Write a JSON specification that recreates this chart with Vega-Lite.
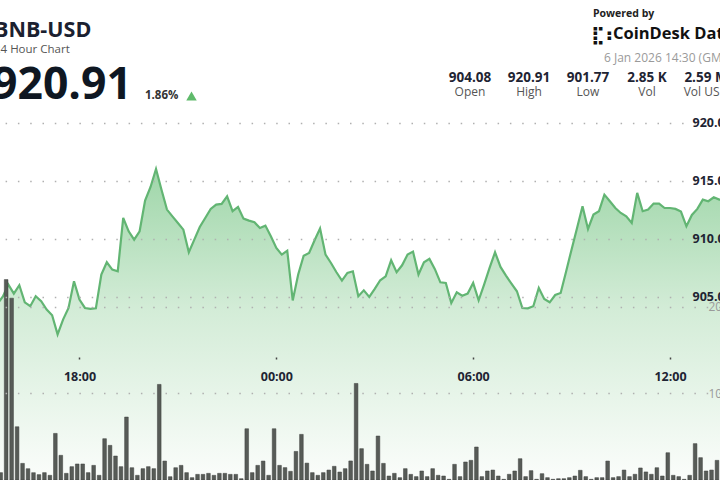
{
  "$schema": "https://vega.github.io/schema/vega-lite/v6.json",
  "width": 720,
  "height": 480,
  "padding": 0,
  "autosize": {"type": "none"},
  "background": "#ffffff",
  "config": {"view": {"stroke": null}, "font": "Open Sans"},
  "datasets": {
    "series": [
      {"t":"2026-01-05T15:30Z","p":904.4,"v":0.85},
      {"t":"2026-01-05T15:40Z","p":905.05,"v":23.15},
      {"t":"2026-01-05T15:50Z","p":906.06,"v":21.0},
      {"t":"2026-01-05T16:00Z","p":905.29,"v":6.15},
      {"t":"2026-01-05T16:10Z","p":906.01,"v":1.92},
      {"t":"2026-01-05T16:20Z","p":904.54,"v":1.31},
      {"t":"2026-01-05T16:30Z","p":904.2,"v":0.85},
      {"t":"2026-01-05T16:40Z","p":905.06,"v":0.62},
      {"t":"2026-01-05T16:50Z","p":904.63,"v":0.85},
      {"t":"2026-01-05T17:00Z","p":903.91,"v":0.54},
      {"t":"2026-01-05T17:10Z","p":903.42,"v":5.38},
      {"t":"2026-01-05T17:20Z","p":901.77,"v":2.85},
      {"t":"2026-01-05T17:30Z","p":903.05,"v":0.77},
      {"t":"2026-01-05T17:40Z","p":904.05,"v":1.54},
      {"t":"2026-01-05T17:50Z","p":906.35,"v":1.85},
      {"t":"2026-01-05T18:00Z","p":904.77,"v":1.85},
      {"t":"2026-01-05T18:10Z","p":904.05,"v":0.85},
      {"t":"2026-01-05T18:20Z","p":903.97,"v":1.69},
      {"t":"2026-01-05T18:30Z","p":904.02,"v":0.54},
      {"t":"2026-01-05T18:40Z","p":906.93,"v":4.77},
      {"t":"2026-01-05T18:50Z","p":907.99,"v":4.0},
      {"t":"2026-01-05T19:00Z","p":907.36,"v":2.77},
      {"t":"2026-01-05T19:10Z","p":907.21,"v":1.54},
      {"t":"2026-01-05T19:20Z","p":911.81,"v":7.27},
      {"t":"2026-01-05T19:30Z","p":910.66,"v":1.42},
      {"t":"2026-01-05T19:40Z","p":909.94,"v":0.54},
      {"t":"2026-01-05T19:50Z","p":910.66,"v":1.31},
      {"t":"2026-01-05T20:00Z","p":913.3,"v":1.54},
      {"t":"2026-01-05T20:10Z","p":914.48,"v":1.31},
      {"t":"2026-01-05T20:20Z","p":916.03,"v":11.04},
      {"t":"2026-01-05T20:30Z","p":914.25,"v":2.19},
      {"t":"2026-01-05T20:40Z","p":912.53,"v":0.38},
      {"t":"2026-01-05T20:50Z","p":911.95,"v":1.42},
      {"t":"2026-01-05T21:00Z","p":911.38,"v":1.69},
      {"t":"2026-01-05T21:10Z","p":910.8,"v":0.85},
      {"t":"2026-01-05T21:20Z","p":908.85,"v":0.27},
      {"t":"2026-01-05T21:30Z","p":909.94,"v":0.65},
      {"t":"2026-01-05T21:40Z","p":911.03,"v":0.65},
      {"t":"2026-01-05T21:50Z","p":911.81,"v":0.77},
      {"t":"2026-01-05T22:00Z","p":912.59,"v":0.54},
      {"t":"2026-01-05T22:10Z","p":912.96,"v":0.77},
      {"t":"2026-01-05T22:20Z","p":913.02,"v":0.77},
      {"t":"2026-01-05T22:30Z","p":913.68,"v":0.65},
      {"t":"2026-01-05T22:40Z","p":912.39,"v":0.65},
      {"t":"2026-01-05T22:50Z","p":912.76,"v":0.15},
      {"t":"2026-01-05T23:00Z","p":911.75,"v":5.92},
      {"t":"2026-01-05T23:10Z","p":911.58,"v":0.85},
      {"t":"2026-01-05T23:20Z","p":911.44,"v":1.69},
      {"t":"2026-01-05T23:30Z","p":910.95,"v":2.19},
      {"t":"2026-01-05T23:40Z","p":911.15,"v":0.54},
      {"t":"2026-01-05T23:50Z","p":910.23,"v":5.92},
      {"t":"2026-01-06T00:00Z","p":909.22,"v":1.69},
      {"t":"2026-01-06T00:10Z","p":908.65,"v":1.43},
      {"t":"2026-01-06T00:20Z","p":908.99,"v":1.0},
      {"t":"2026-01-06T00:30Z","p":904.7,"v":3.3},
      {"t":"2026-01-06T00:40Z","p":906.93,"v":5.27},
      {"t":"2026-01-06T00:50Z","p":908.56,"v":1.95},
      {"t":"2026-01-06T01:00Z","p":908.79,"v":0.85},
      {"t":"2026-01-06T01:10Z","p":909.89,"v":0.54},
      {"t":"2026-01-06T01:20Z","p":910.9,"v":0.85},
      {"t":"2026-01-06T01:30Z","p":908.65,"v":1.15},
      {"t":"2026-01-06T01:40Z","p":907.93,"v":1.58},
      {"t":"2026-01-06T01:50Z","p":907.13,"v":0.92},
      {"t":"2026-01-06T02:00Z","p":906.41,"v":1.31},
      {"t":"2026-01-06T02:10Z","p":907.07,"v":2.2},
      {"t":"2026-01-06T02:20Z","p":907.21,"v":11.15},
      {"t":"2026-01-06T02:30Z","p":905.06,"v":3.62},
      {"t":"2026-01-06T02:40Z","p":905.57,"v":1.81},
      {"t":"2026-01-06T02:50Z","p":905.0,"v":1.04},
      {"t":"2026-01-06T03:00Z","p":905.69,"v":5.08},
      {"t":"2026-01-06T03:10Z","p":906.44,"v":1.92},
      {"t":"2026-01-06T03:20Z","p":906.78,"v":0.46},
      {"t":"2026-01-06T03:30Z","p":908.16,"v":0.77},
      {"t":"2026-01-06T03:40Z","p":907.13,"v":0.27},
      {"t":"2026-01-06T03:50Z","p":907.73,"v":1.31},
      {"t":"2026-01-06T04:00Z","p":908.65,"v":0.65},
      {"t":"2026-01-06T04:10Z","p":908.91,"v":0.39},
      {"t":"2026-01-06T04:20Z","p":906.93,"v":1.04},
      {"t":"2026-01-06T04:30Z","p":907.99,"v":0.39},
      {"t":"2026-01-06T04:40Z","p":908.28,"v":1.31},
      {"t":"2026-01-06T04:50Z","p":907.4,"v":0.54},
      {"t":"2026-01-06T05:00Z","p":906.26,"v":0.46},
      {"t":"2026-01-06T05:10Z","p":906.21,"v":0.08},
      {"t":"2026-01-06T05:20Z","p":904.48,"v":1.81},
      {"t":"2026-01-06T05:30Z","p":905.4,"v":0.39},
      {"t":"2026-01-06T05:40Z","p":905.11,"v":2.08},
      {"t":"2026-01-06T05:50Z","p":905.29,"v":2.27},
      {"t":"2026-01-06T06:00Z","p":906.21,"v":3.81},
      {"t":"2026-01-06T06:10Z","p":904.71,"v":0.39},
      {"t":"2026-01-06T06:20Z","p":906.06,"v":1.04},
      {"t":"2026-01-06T06:30Z","p":907.5,"v":1.15},
      {"t":"2026-01-06T06:40Z","p":908.85,"v":0.46},
      {"t":"2026-01-06T06:50Z","p":907.59,"v":0.08},
      {"t":"2026-01-06T07:00Z","p":906.84,"v":0.66},
      {"t":"2026-01-06T07:10Z","p":906.15,"v":1.04},
      {"t":"2026-01-06T07:20Z","p":905.49,"v":2.46},
      {"t":"2026-01-06T07:30Z","p":904.05,"v":0.39},
      {"t":"2026-01-06T07:40Z","p":904.02,"v":1.08},
      {"t":"2026-01-06T07:50Z","p":904.2,"v":0.08},
      {"t":"2026-01-06T08:00Z","p":905.78,"v":0.73},
      {"t":"2026-01-06T08:10Z","p":904.83,"v":0.27},
      {"t":"2026-01-06T08:20Z","p":904.54,"v":0.08},
      {"t":"2026-01-06T08:30Z","p":905.17,"v":0.15},
      {"t":"2026-01-06T08:40Z","p":905.34,"v":0.15},
      {"t":"2026-01-06T08:50Z","p":907.2,"v":0.27},
      {"t":"2026-01-06T09:00Z","p":909.1,"v":0.46},
      {"t":"2026-01-06T09:10Z","p":910.95,"v":1.12},
      {"t":"2026-01-06T09:20Z","p":912.82,"v":0.39},
      {"t":"2026-01-06T09:30Z","p":910.86,"v":0.08},
      {"t":"2026-01-06T09:40Z","p":912.1,"v":0.27},
      {"t":"2026-01-06T09:50Z","p":912.39,"v":0.27},
      {"t":"2026-01-06T10:00Z","p":913.82,"v":2.19},
      {"t":"2026-01-06T10:10Z","p":913.25,"v":0.27},
      {"t":"2026-01-06T10:20Z","p":912.67,"v":0.39},
      {"t":"2026-01-06T10:30Z","p":912.24,"v":1.15},
      {"t":"2026-01-06T10:40Z","p":911.95,"v":0.39},
      {"t":"2026-01-06T10:50Z","p":911.38,"v":0.66},
      {"t":"2026-01-06T11:00Z","p":913.97,"v":1.39},
      {"t":"2026-01-06T11:10Z","p":912.39,"v":0.93},
      {"t":"2026-01-06T11:20Z","p":912.53,"v":0.66},
      {"t":"2026-01-06T11:30Z","p":913.05,"v":1.42},
      {"t":"2026-01-06T11:40Z","p":913.05,"v":0.46},
      {"t":"2026-01-06T11:50Z","p":912.67,"v":3.15},
      {"t":"2026-01-06T12:00Z","p":912.67,"v":0.54},
      {"t":"2026-01-06T12:10Z","p":912.59,"v":0.39},
      {"t":"2026-01-06T12:20Z","p":912.36,"v":0.08},
      {"t":"2026-01-06T12:30Z","p":911.09,"v":0.54},
      {"t":"2026-01-06T12:40Z","p":912.07,"v":4.2},
      {"t":"2026-01-06T12:50Z","p":912.59,"v":2.58},
      {"t":"2026-01-06T13:00Z","p":913.39,"v":1.04},
      {"t":"2026-01-06T13:10Z","p":913.25,"v":1.15},
      {"t":"2026-01-06T13:20Z","p":913.59,"v":2.27},
      {"t":"2026-01-06T13:30Z","p":913.39,"v":1.0},
      {"t":"2026-01-06T13:40Z","p":913.45,"v":1.0}
    ],
    "stats": [
      {"item":"Open","value":"904.08"},
      {"item":"High","value":"920.91"},
      {"item":"Low","value":"901.77"},
      {"item":"Vol","value":"2.85 K"},
      {"item":"Vol USD","value":"2.59 M"}
    ]
  },
  "layer": [
    {
      "data": {"name": "series"},
      "layer": [
        {
          "mark": {"type": "area", "clip": true, "line": false,
            "color": {"x1": 0, "y1": 0, "x2": 0, "y2": 1, "gradient": "linear",
              "stops": [{"offset": 0, "color": "#9fd6a9"}, {"offset": 0.45, "color": "#d3ecd7"}, {"offset": 1, "color": "#fbfdfb"}]}},
          "encoding": {
            "x": {"field": "t", "type": "temporal",
              "scale": {"type": "utc", "domain": [{"year":2026,"month":1,"date":5,"hours":15,"minutes":34,"seconds":40,"utc":true},{"year":2026,"month":1,"date":6,"hours":13,"minutes":31,"seconds":25,"utc":true}]},
              "axis": {"orient": "bottom", "offset": -123, "zindex": 3, "domain": false, "grid": false, "ticks": true, "tickSize": 2, "tickColor": "#444444", "tickWidth": 1.5,
                "labelPadding": 11, "labelFont": "Open Sans", "labelFontSize": 12.5, "labelFontWeight": "bold", "labelColor": "#1e2433",
                "format": "%H:%M", "title": null,
                "values": [{"year":2026,"month":1,"date":5,"hours":18,"utc":true},{"year":2026,"month":1,"date":6,"hours":0,"utc":true},{"year":2026,"month":1,"date":6,"hours":6,"utc":true},{"year":2026,"month":1,"date":6,"hours":12,"utc":true}]}},
            "y": {"field": "p", "type": "quantitative",
              "scale": {"domain": [889.22, 930.6], "zero": false, "nice": false},
              "axis": {"orient": "right", "offset": -28, "zindex": 2, "domain": false, "ticks": false, "tickSize": 0, "labelPadding": 0, "labelAlign": "left", "labelBaseline": "middle",
                "values": [905, 910, 915, 920], "format": ".1f", "labelFont": "Open Sans", "labelFontSize": 12.5, "labelFontWeight": "bold", "labelColor": "#1e2433",
                "grid": true, "gridDash": [1.5, 10.8], "gridColor": "#b0b0b0", "gridWidth": 1.5, "title": null}},
            "y2": {"datum": 889.22}
          }
        },
        {
          "mark": {"type": "line", "clip": true, "color": "#62b573", "strokeWidth": 2.2},
          "encoding": {
            "x": {"field": "t", "type": "temporal",
              "scale": {"type": "utc", "domain": [{"year":2026,"month":1,"date":5,"hours":15,"minutes":34,"seconds":40,"utc":true},{"year":2026,"month":1,"date":6,"hours":13,"minutes":31,"seconds":25,"utc":true}]}},
            "y": {"field": "p", "type": "quantitative", "scale": {"domain": [889.22, 930.6], "zero": false, "nice": false}, "axis": null}
          }
        },
        {
          "mark": {"type": "bar", "clip": true, "fill": "#575b57", "stroke": "#3c3f3c", "strokeWidth": 0.5, "width": {"band": 0.85}},
          "encoding": {
            "x": {"field": "t", "type": "temporal", "timeUnit": {"unit": "utcyearmonthdatehoursminutes", "step": 10},
              "scale": {"type": "utc", "domain": [{"year":2026,"month":1,"date":5,"hours":15,"minutes":34,"seconds":40,"utc":true},{"year":2026,"month":1,"date":6,"hours":13,"minutes":31,"seconds":25,"utc":true}]}},
            "y": {"field": "v", "type": "quantitative", "scale": {"domain": [0, 55.44], "nice": false},
              "axis": {"orient": "right", "offset": -12, "zindex": 2, "domain": false, "ticks": false, "tickSize": 0, "labelPadding": 0, "labelAlign": "left", "labelBaseline": "middle",
                "values": [10, 20], "format": "d", "labelFont": "Open Sans", "labelFontSize": 12, "labelColor": "#9a9a9a",
                "grid": true, "gridDash": [1.5, 10.8], "gridColor": "#b0b0b0", "gridWidth": 1.5, "title": null}}
          }
        }
      ],
      "resolve": {"scale": {"y": "independent"}}
    },
    {
      "data": {"values": [{"item": "BNB-USD"}]},
      "mark": {"type": "text", "align": "left", "baseline": "alphabetic", "font": "Open Sans", "fontSize": 21.5, "fontWeight": "bold", "color": "#1b2130"},
      "encoding": {
        "text": {"field": "item"},
        "x": {"field": "item", "type": "nominal", "scale": {"range": [-6, -6]}, "axis": null},
        "y": {"field": "item", "type": "nominal", "scale": {"range": [37, 37]}, "axis": null}
      }
    },
    {
      "data": {"values": [{"item": "24 Hour Chart"}]},
      "mark": {"type": "text", "align": "left", "baseline": "alphabetic", "font": "Open Sans", "fontSize": 11.5, "color": "#555555"},
      "encoding": {
        "text": {"field": "item"},
        "x": {"field": "item", "type": "nominal", "scale": {"range": [-6, -6]}, "axis": null},
        "y": {"field": "item", "type": "nominal", "scale": {"range": [53, 53]}, "axis": null}
      }
    },
    {
      "data": {"values": [{"item": "920.91"}]},
      "mark": {"type": "text", "align": "left", "baseline": "alphabetic", "font": "Open Sans", "fontSize": 44.5, "fontWeight": "bold", "color": "#0f1722"},
      "encoding": {
        "text": {"field": "item"},
        "x": {"field": "item", "type": "nominal", "scale": {"range": [-8, -8]}, "axis": null},
        "y": {"field": "item", "type": "nominal", "scale": {"range": [99.3, 99.3]}, "axis": null}
      }
    },
    {
      "data": {"values": [{"item": "1.86%"}]},
      "mark": {"type": "text", "align": "left", "baseline": "alphabetic", "font": "Open Sans", "fontSize": 11.5, "fontWeight": "bold", "color": "#333333"},
      "encoding": {
        "text": {"field": "item"},
        "x": {"field": "item", "type": "nominal", "scale": {"range": [145, 145]}, "axis": null},
        "y": {"field": "item", "type": "nominal", "scale": {"range": [99, 99]}, "axis": null}
      }
    },
    {
      "data": {"values": [{"item": "up"}]},
      "mark": {"type": "point", "shape": "triangle-up", "filled": true, "color": "#5fba6b", "opacity": 1, "size": 110},
      "encoding": {
        "x": {"field": "item", "type": "nominal", "scale": {"range": [191.5, 191.5]}, "axis": null},
        "y": {"field": "item", "type": "nominal", "scale": {"range": [96, 96]}, "axis": null}
      }
    },
    {
      "data": {"values": [{"item": "Powered by"}]},
      "mark": {"type": "text", "align": "left", "baseline": "alphabetic", "font": "Open Sans", "fontSize": 10.5, "fontWeight": "bold", "color": "#222222"},
      "encoding": {
        "text": {"field": "item"},
        "x": {"field": "item", "type": "nominal", "scale": {"range": [593, 593]}, "axis": null},
        "y": {"field": "item", "type": "nominal", "scale": {"range": [16.5, 16.5]}, "axis": null}
      }
    },
    {
      "data": {"values": [{"item": "⣏⠆"}]},
      "mark": {"type": "text", "align": "left", "baseline": "alphabetic", "font": "DejaVu Sans", "fontSize": 18, "fontWeight": "bold", "color": "#111111"},
      "encoding": {
        "text": {"field": "item"},
        "x": {"field": "item", "type": "nominal", "scale": {"range": [591, 591]}, "axis": null},
        "y": {"field": "item", "type": "nominal", "scale": {"range": [41, 41]}, "axis": null}
      }
    },
    {
      "data": {"values": [{"item": "CoinDesk Data"}]},
      "mark": {"type": "text", "align": "left", "baseline": "alphabetic", "font": "Open Sans", "fontSize": 16.5, "fontWeight": "bold", "color": "#111111", "letterSpacing": -0.3},
      "encoding": {
        "text": {"field": "item"},
        "x": {"field": "item", "type": "nominal", "scale": {"range": [613, 613]}, "axis": null},
        "y": {"field": "item", "type": "nominal", "scale": {"range": [39.3, 39.3]}, "axis": null}
      }
    },
    {
      "data": {"values": [{"item": "6 Jan 2026 14:30 (GMT)"}]},
      "mark": {"type": "text", "align": "left", "baseline": "alphabetic", "font": "Open Sans", "fontSize": 12, "color": "#9a9a9a"},
      "encoding": {
        "text": {"field": "item"},
        "x": {"field": "item", "type": "nominal", "scale": {"range": [604, 604]}, "axis": null},
        "y": {"field": "item", "type": "nominal", "scale": {"range": [61.5, 61.5]}, "axis": null}
      }
    },
    {
      "data": {"name": "stats"},
      "mark": {"type": "text", "align": "center", "baseline": "alphabetic", "font": "Open Sans", "fontSize": 13.5, "fontWeight": "bold", "color": "#1e2433"},
      "encoding": {
        "text": {"field": "value"},
        "x": {"field": "item", "type": "nominal", "scale": {"domain": ["Open", "High", "Low", "Vol", "Vol USD"], "range": [470, 706], "padding": 0}, "axis": null},
        "y": {"field": "item", "type": "nominal", "scale": {"range": [82, 82]}, "axis": null}
      }
    },
    {
      "data": {"name": "stats"},
      "mark": {"type": "text", "align": "center", "baseline": "alphabetic", "font": "Open Sans", "fontSize": 12, "color": "#555555"},
      "encoding": {
        "text": {"field": "item"},
        "x": {"field": "item", "type": "nominal", "scale": {"domain": ["Open", "High", "Low", "Vol", "Vol USD"], "range": [470, 706], "padding": 0}, "axis": null},
        "y": {"field": "item", "type": "nominal", "scale": {"range": [95.5, 95.5]}, "axis": null}
      }
    }
  ],
  "resolve": {"scale": {"x": "independent", "y": "independent"}}
}
